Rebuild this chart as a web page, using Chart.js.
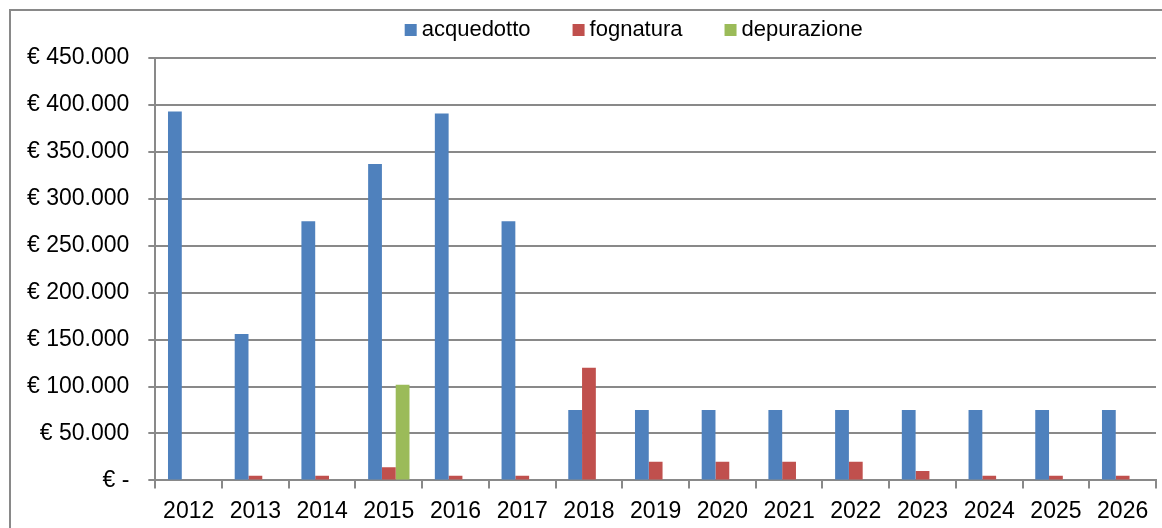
<!DOCTYPE html>
<html>
<head>
<meta charset="utf-8">
<script src="https://cdn.jsdelivr.net/npm/chart.js@4"></script>
<style>
  html, body { margin: 0; padding: 0; background: #fff; }
  #wrap { width: 1162px; height: 528px; position: relative; }
</style>
</head>
<body>
<div id="wrap"><canvas id="costChart"></canvas></div>
<script>
// ---------------- DATA ----------------
const years = ['2012', '2013', '2014', '2015', '2016', '2017', '2018', '2019',
  '2020', '2021', '2022', '2023', '2024', '2025', '2026'];

const acquedotto = [393000, 156000, 276000, 337000, 391000, 276000, 75000, 75000,
  75000, 75000, 75000, 75000, 75000, 75000, 75000];

const fognatura = [0, 5000, 5000, 14000, 5000, 5000, 120000, 20000,
  20000, 20000, 20000, 10000, 5000, 5000, 5000];

const depurazione = [0, 1000, 1000, 102000, 1000, 1000, 1000, 1000,
  1000, 1000, 1000, 1000, 1000, 1000, 1000];

const gridGrey = '#898989';
const fontFamily = '"Liberation Sans", Arial, sans-serif';

// euro format like "€ 450.000", zero shown as "€ -"
function euro(v) {
  if (v === 0) return '€ -';
  return '€ ' + String(v).replace(/\B(?=(\d{3})+(?!\d))/g, '.');
}

// outer frame of the chart (only left and top edges are visible)
const framePlugin = {
  id: 'frame',
  beforeDraw(chart) {
    const c = chart.ctx;
    c.save();
    c.strokeStyle = gridGrey;
    c.lineWidth = 2;
    c.strokeRect(10, 10, chart.width + 20, chart.height + 20);
    c.restore();
  }
};

// legend like the excel one: small square, short gap, text
const legendPlugin = {
  id: 'xlLegend',
  afterDraw(chart) {
    const c = chart.ctx;
    const box = 12, gap = 5, spacing = 42;
    c.save();
    c.font = '22px ' + fontFamily;
    c.textBaseline = 'middle';
    const items = chart.data.datasets.map(ds => ({
      text: ds.label, color: ds.backgroundColor, w: c.measureText(ds.label).width
    }));
    let total = items.reduce((s, it) => s + box + gap + it.w, 0) + spacing * (items.length - 1);
    let x = (chart.chartArea.left + chart.chartArea.right) / 2 - total / 2 - 22;
    const y = 30;
    items.forEach(it => {
      c.fillStyle = it.color;
      c.fillRect(x, y - 6, box, box);
      c.fillStyle = '#000';
      c.fillText(it.text, x + box + gap, y);
      x += box + gap + it.w + spacing;
    });
    c.restore();
  }
};

Chart.defaults.font.family = fontFamily;
Chart.defaults.font.size = 23;
Chart.defaults.color = '#000';

new Chart(document.getElementById('costChart'), {
  type: 'bar',
  data: {
    labels: years,
    datasets: [
      { label: 'acquedotto', data: acquedotto, backgroundColor: '#4F81BD' },
      { label: 'fognatura', data: fognatura, backgroundColor: '#C0504D' },
      { label: 'depurazione', data: depurazione, backgroundColor: '#9BBB59' }
    ]
  },
  options: {
    responsive: true,
    maintainAspectRatio: false,
    animation: false,
    datasets: {
      bar: { barPercentage: 1, categoryPercentage: 0.62 }
    },
    layout: { padding: { left: 8, right: 6, top: 58, bottom: -6 } },
    plugins: {
      legend: { display: false },
      tooltip: { enabled: false }
    },
    scales: {
      x: {
        grid: {
          display: true,
          drawOnChartArea: false,
          offset: true,
          tickLength: 8,
          color: gridGrey,
          lineWidth: 2
        },
        border: { color: gridGrey, width: 2 },
        ticks: { padding: 9, maxRotation: 0, autoSkip: false }
      },
      y: {
        min: 0,
        max: 450000,
        ticks: {
          stepSize: 50000,
          padding: 19,
          callback: (v) => euro(v)
        },
        grid: { color: gridGrey, lineWidth: 2, tickLength: 7 },
        border: { color: gridGrey, width: 2 }
      }
    }
  },
  plugins: [framePlugin, legendPlugin]
});
</script>
</body>
</html>
